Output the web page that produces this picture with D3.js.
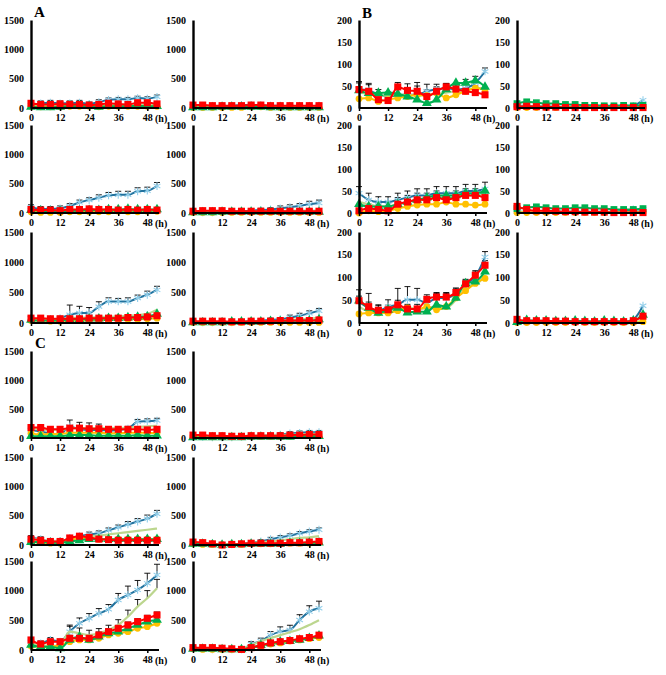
<!DOCTYPE html>
<html><head><meta charset="utf-8">
<script src="https://cdn.jsdelivr.net/npm/d3@7"></script>
<style>
html,body{margin:0;padding:0;background:#fff;}
svg{display:block;}
.tk text{font-family:"Liberation Serif","Times New Roman",serif;font-weight:bold;font-size:10px;fill:#000;}
</style></head><body>
<svg id="c" width="666" height="675"></svg>
<script>
// ---------- data ----------
const hours = [0,4,8,12,16,20,24,28,32,36,40,44,48,52];
const xTickLabels = [0,12,24,36,48];
const yTicksAC = [0,500,1000,1500];
const yTicksB = [0,50,100,150,200];
const seriesNames = ["blue","lgreen","yellow","green","red"];

// Panel A
const A1_blue=[50,80,90,80,80,90,70,100,140,150,150,170,160,190];
const A1_blueErr=[40,40,40,40,40,40,30,40,30,30,30,30,30,30];
const A1_lgreen=[50,40,40,40,50,50,50,50,60,60,60,60,60,60];
const A1_red=[80,60,60,70,60,60,50,60,80,70,60,90,90,70];
const A1_yellow=[30,20,20,20,30,30,30,20,30,30,30,30,30,30];
const A1_green=[20,10,10,20,30,30,30,20,30,30,30,40,30,30];

const A2_blue=[30,20,20,30,40,50,50,40,40,40,30,30,30,40];
const A2_blueErr=[20,20,20,20,20,20,20,20,20,20,20,20,20,20];
const A2_lgreen=[30,20,20,20,30,30,30,30,30,30,30,30,30,30];
const A2_red=[50,50,40,40,40,40,50,50,40,40,40,40,40,40];
const A2_yellow=[10,10,10,10,10,10,20,20,10,10,10,10,10,10];
const A2_green=[10,10,10,20,20,20,20,20,10,10,10,10,10,10];

const A3_blue=[100,70,70,80,120,180,220,260,300,310,310,370,380,460];
const A3_blueErr=[40,40,40,40,40,40,40,50,50,60,60,60,60,60];
const A3_lgreen=[40,30,30,30,40,40,50,50,50,50,50,50,50,60];
const A3_red=[60,50,50,40,60,60,70,60,60,50,60,50,60,50];
const A3_yellow=[20,10,10,10,20,20,20,20,20,30,20,20,30,30];
const A3_green=[50,40,30,30,40,40,50,50,60,60,70,60,60,60];

const A4_blue=[20,10,10,10,20,30,40,50,60,80,100,120,150,170];
const A4_blueErr=[20,20,20,20,20,20,30,30,30,40,40,40,50,50];
const A4_lgreen=[20,10,10,10,20,20,20,30,30,30,40,40,40,40];
const A4_red=[30,40,40,40,30,30,30,30,30,30,30,30,30,30];
const A4_yellow=[10,10,10,10,10,10,10,10,10,10,10,10,10,10];
const A4_green=[10,10,10,20,20,20,20,20,20,20,20,20,20,20];

const A5_blue=[80,55,55,80,136,165,165,270,355,355,355,410,465,545];
const A5_blueErr=[30,30,30,30,160,110,90,80,60,50,60,50,60,60];
const A5_lgreen=[60,50,50,60,80,90,90,100,100,110,120,130,150,220];
const A5_red=[80,80,70,70,70,70,80,80,80,80,90,90,100,120];
const A5_yellow=[40,40,30,30,40,40,50,50,50,60,60,60,70,80];
const A5_green=[50,40,40,40,60,60,70,70,80,80,90,100,110,150];

const A6_blue=[20,10,10,10,10,20,30,40,50,60,90,120,160,200];
const A6_blueErr=[20,20,20,20,20,20,20,30,30,30,40,40,40,40];
const A6_lgreen=[20,10,10,10,10,20,20,30,30,40,50,60,70,90];
const A6_red=[30,30,30,30,20,20,30,30,30,40,40,40,40,50];
const A6_yellow=[10,10,10,10,10,10,10,10,10,10,10,10,10,10];
const A6_green=[10,10,10,10,20,20,20,20,30,30,30,40,40,60];

// Panel B
const B1_blue=[42,40,30,26,30,30,30,38,42,45,42,45,57,83];
const B1_blueErr=[18,16,12,10,12,14,20,16,12,10,15,20,15,8];
const B1_lgreen=[35,33,28,28,30,30,28,30,32,35,38,40,45,45];
const B1_red=[42,38,19,17,48,40,38,26,38,48,43,38,35,30];
const B1_redErr=[15,15,15,12,10,15,20,15,10,8,10,15,15,10];
const B1_yellow=[21,23,15,19,23,26,30,28,34,23,30,38,45,42];
const B1_green=[40,34,34,35,32,26,19,11,19,42,57,57,62,48];

const B2_blue=[5,5,4,4,3,3,3,3,3,3,3,3,5,18];
const B2_lgreen=[3,3,3,3,2,2,2,2,2,2,2,2,2,3];
const B2_red=[3,4,3,2,2,1,1,1,1,1,1,1,1,1];
const B2_yellow=[1,1,1,1,1,1,1,1,1,1,1,1,1,1];
const B2_green=[10,14,12,10,10,8,8,6,6,5,5,6,5,6];

const B3_blue=[45,30,25,25,30,35,40,40,45,45,45,50,50,55];
const B3_blueErr=[15,15,12,12,15,15,15,15,15,15,15,15,15,15];
const B3_lgreen=[25,20,15,15,20,25,30,30,35,35,35,40,40,45];
const B3_red=[5,10,8,5,20,25,30,30,35,30,35,40,40,35];
const B3_redErr=[10,10,10,10,15,15,15,15,15,15,15,15,15,15];
const B3_yellow=[0,5,3,5,10,15,18,20,20,25,20,20,18,20];
const B3_green=[20,15,15,15,20,25,30,35,40,40,40,45,45,50];

const B4_blue=[3,3,3,3,3,3,3,3,3,3,3,5,8,8];
const B4_lgreen=[2,2,2,2,2,2,2,2,2,2,2,2,2,2];
const B4_red=[15,8,5,5,4,3,3,2,2,2,1,1,1,1];
const B4_yellow=[1,1,1,1,1,1,1,1,1,1,1,1,1,1];
const B4_green=[10,12,14,12,10,10,12,12,10,10,8,8,8,10];

const B5_blue=[47,33,27,36,40,51,51,44,55,55,65,84,102,145];
const B5_blueErr=[26,32,13,15,36,29,25,10,10,10,10,10,10,12];
const B5_lgreen=[36,25,22,29,29,36,29,33,36,33,51,80,84,105];
const B5_red=[49,36,28,29,40,31,31,52,57,57,67,86,105,127];
const B5_redErr=[10,10,10,10,10,10,10,10,10,10,10,10,10,10];
const B5_yellow=[20,22,22,22,27,33,29,36,29,36,55,71,87,98];
const B5_green=[49,33,22,29,33,23,25,25,40,36,55,87,91,113];

const B6_blue=[3,2,2,2,2,2,2,2,2,2,3,3,8,38];
const B6_lgreen=[3,3,3,3,3,3,3,3,3,3,3,3,3,5];
const B6_red=[8,5,5,5,4,4,3,3,3,3,3,3,5,15];
const B6_yellow=[1,1,1,1,1,1,1,1,1,1,1,1,1,3];
const B6_green=[2,6,5,5,4,4,5,4,3,5,4,3,5,18];

// Panel C
const C1_blue=[140,110,80,60,200,150,140,140,130,140,160,280,290,300];
const C1_blueErr=[60,60,50,40,110,120,120,100,40,40,40,40,40,40];
const C1_lgreen=[160,150,140,140,160,170,170,170,170,170,180,190,200,210];
const C1_red=[180,180,150,150,170,170,160,160,150,150,150,150,140,150];
const C1_yellow=[80,60,70,70,90,90,90,90,80,80,90,90,90,80];
const C1_green=[30,30,30,30,50,50,50,40,40,40,40,50,40,40];

const C2_blue=[20,20,10,10,10,20,30,40,50,60,80,90,100,100];
const C2_blueErr=[30,30,30,30,30,30,30,30,30,30,30,30,30,30];
const C2_lgreen=[30,30,20,20,30,30,40,40,50,50,60,60,70,70];
const C2_red=[50,50,40,40,30,30,40,40,40,40,50,50,60,60];
const C2_yellow=[30,30,20,20,20,20,30,30,30,30,30,40,40,40];
const C2_green=[10,10,10,10,10,10,20,20,20,20,20,30,30,30];

const C3_blue=[120,100,60,60,120,150,180,200,250,300,350,400,450,530];
const C3_blueErr=[40,40,30,30,40,40,40,40,40,40,50,50,60,60];
const C3_lgreen=[100,90,70,70,100,120,150,160,180,200,220,240,260,280];
const C3_red=[100,80,60,60,120,150,130,100,90,80,80,80,80,80];
const C3_yellow=[50,40,30,30,80,120,120,100,100,100,100,100,100,100];
const C3_green=[50,50,40,40,60,80,100,100,100,100,100,100,100,100];

const C4_blue=[30,30,20,10,10,20,40,60,100,130,160,200,230,260];
const C4_blueErr=[30,30,30,30,30,30,30,30,30,30,30,30,30,30];
const C4_lgreen=[30,20,10,10,10,20,30,50,60,80,100,120,130,150];
const C4_red=[50,40,20,0,10,20,30,30,30,30,40,40,50,60];
const C4_yellow=[20,10,10,0,10,10,20,20,20,30,30,30,30,40];
const C4_green=[20,20,10,0,10,10,20,20,20,20,30,30,40,40];

const C5_blue=[140,112,169,140,310,450,534,618,686,843,927,1012,1124,1265];
const C5_blueErr=[40,40,40,40,90,90,80,80,80,110,150,160,170,180];
const C5_lgreen=[112,84,67,84,310,281,253,281,337,421,562,731,871,1040];
const C5_lgreenErr=[0,0,0,0,110,90,80,80,80,90,110,120,130,150];
const C5_red=[169,101,140,140,197,197,197,253,309,365,421,478,534,590];
const C5_redErr=[40,40,40,40,50,50,50,50,50,50,50,50,50,50];
const C5_yellow=[67,56,56,84,140,169,169,197,253,281,309,365,393,450];
const C5_green=[84,56,56,28,169,225,169,225,281,309,365,421,478,506];

const C6_blue=[30,20,10,10,10,10,100,150,250,310,337,505,646,703];
const C6_blueErr=[20,20,10,10,10,20,40,50,60,80,80,90,100,120];
const C6_lgreen=[30,20,10,10,10,20,80,150,200,250,300,350,420,500];
const C6_red=[40,40,40,30,20,10,40,80,120,140,160,190,210,250];
const C6_yellow=[20,10,10,10,10,10,40,70,100,120,150,170,190,210];
const C6_green=[20,20,20,10,10,10,40,80,110,140,150,170,200,240];

// ---------- layout ----------
const panels = [
 {x0:31, top:20, zero:108, max:1500, ticks:yTicksAC, d:{blue:A1_blue,lgreen:A1_lgreen,yellow:A1_yellow,green:A1_green,red:A1_red}, e:{blue:A1_blueErr}},
 {x0:193, top:20, zero:108, max:1500, ticks:yTicksAC, d:{blue:A2_blue,lgreen:A2_lgreen,yellow:A2_yellow,green:A2_green,red:A2_red}, e:{blue:A2_blueErr}},
 {x0:31, top:125, zero:213, max:1500, ticks:yTicksAC, d:{blue:A3_blue,lgreen:A3_lgreen,yellow:A3_yellow,green:A3_green,red:A3_red}, e:{blue:A3_blueErr}},
 {x0:193, top:125, zero:213, max:1500, ticks:yTicksAC, d:{blue:A4_blue,lgreen:A4_lgreen,yellow:A4_yellow,green:A4_green,red:A4_red}, e:{blue:A4_blueErr}},
 {x0:31, top:232, zero:323, max:1500, ticks:yTicksAC, d:{blue:A5_blue,lgreen:A5_lgreen,yellow:A5_yellow,green:A5_green,red:A5_red}, e:{blue:A5_blueErr}},
 {x0:193, top:232, zero:323, max:1500, ticks:yTicksAC, d:{blue:A6_blue,lgreen:A6_lgreen,yellow:A6_yellow,green:A6_green,red:A6_red}, e:{blue:A6_blueErr}},
 {x0:359, top:20, zero:108, max:200, ticks:yTicksB, d:{blue:B1_blue,lgreen:B1_lgreen,yellow:B1_yellow,green:B1_green,red:B1_red}, e:{blue:B1_blueErr,red:B1_redErr}},
 {x0:517, top:20, zero:108, max:200, ticks:yTicksB, greenSq:true, d:{blue:B2_blue,lgreen:B2_lgreen,yellow:B2_yellow,green:B2_green,red:B2_red}, e:{}},
 {x0:359, top:125, zero:213, max:200, ticks:yTicksB, d:{blue:B3_blue,lgreen:B3_lgreen,yellow:B3_yellow,green:B3_green,red:B3_red}, e:{blue:B3_blueErr,red:B3_redErr}},
 {x0:517, top:125, zero:213, max:200, ticks:yTicksB, greenSq:true, d:{blue:B4_blue,lgreen:B4_lgreen,yellow:B4_yellow,green:B4_green,red:B4_red}, e:{}},
 {x0:359, top:232, zero:323, max:200, ticks:yTicksB, d:{blue:B5_blue,lgreen:B5_lgreen,yellow:B5_yellow,green:B5_green,red:B5_red}, e:{blue:B5_blueErr,red:B5_redErr}},
 {x0:517, top:232, zero:323, max:200, ticks:yTicksB, d:{blue:B6_blue,lgreen:B6_lgreen,yellow:B6_yellow,green:B6_green,red:B6_red}, e:{}},
 {x0:31, top:351, zero:438, max:1500, ticks:yTicksAC, d:{blue:C1_blue,lgreen:C1_lgreen,yellow:C1_yellow,green:C1_green,red:C1_red}, e:{blue:C1_blueErr}},
 {x0:193, top:351, zero:438, max:1500, ticks:yTicksAC, d:{blue:C2_blue,lgreen:C2_lgreen,yellow:C2_yellow,green:C2_green,red:C2_red}, e:{blue:C2_blueErr}},
 {x0:31, top:457, zero:545, max:1500, ticks:yTicksAC, d:{blue:C3_blue,lgreen:C3_lgreen,yellow:C3_yellow,green:C3_green,red:C3_red}, e:{blue:C3_blueErr}},
 {x0:193, top:457, zero:545, max:1500, ticks:yTicksAC, d:{blue:C4_blue,lgreen:C4_lgreen,yellow:C4_yellow,green:C4_green,red:C4_red}, e:{blue:C4_blueErr}},
 {x0:31, top:561, zero:650, max:1500, ticks:yTicksAC, d:{blue:C5_blue,lgreen:C5_lgreen,yellow:C5_yellow,green:C5_green,red:C5_red}, e:{blue:C5_blueErr,lgreen:C5_lgreenErr,red:C5_redErr}},
 {x0:193, top:561, zero:650, max:1500, ticks:yTicksAC, d:{blue:C6_blue,lgreen:C6_lgreen,yellow:C6_yellow,green:C6_green,red:C6_red}, e:{blue:C6_blueErr}}
];

const lineColor = {blue:"#21729e", lgreen:"#bcd68e", yellow:"#ffc000", green:"#00b050", red:"#ff0000"};
const markFill = {blue:"none", lgreen:"none", yellow:"#ffc000", green:"#00b050", red:"#ff0000"};

const svg = d3.select("#c");

panels.forEach(p => {
  const g = svg.append("g");
  const x = d3.scaleLinear().domain([0,52]).range([p.x0, p.x0+126]);
  const y = d3.scaleLinear().domain([0,p.max]).range([p.zero, p.top]);

  // error bars
  Object.keys(p.e).forEach(k => {
    const vals = p.d[k], err = p.e[k];
    hours.forEach((h,i) => {
      if (!err[i]) return;
      const cx = x(h), y1 = y(vals[i]), y2 = y(vals[i]+err[i]);
      g.append("line").attr("x1",cx).attr("x2",cx).attr("y1",y1).attr("y2",y2).attr("stroke","#000").attr("stroke-width",0.9);
      g.append("line").attr("x1",cx-3).attr("x2",cx+3).attr("y1",y2).attr("y2",y2).attr("stroke","#000").attr("stroke-width",0.9);
    });
  });

  // lines and markers
  seriesNames.forEach(k => {
    const vals = p.d[k];
    const line = d3.line().x((v,i)=>x(hours[i])).y(v=>y(v)).curve(d3.curveMonotoneX);
    g.append("path").datum(vals).attr("d",line).attr("fill","none")
      .attr("stroke",lineColor[k]).attr("stroke-width", k==="lgreen" ? 2.2 : 2);
    if (k==="lgreen") return;
    let type, size;
    if (k==="blue") { type = d3.symbolAsterisk; size = 42; }
    else if (k==="red") { type = d3.symbolSquare; size = 50; }
    else if (k==="yellow") { type = d3.symbolCircle; size = 36; }
    else { type = p.greenSq ? d3.symbolSquare : d3.symbolTriangle; size = p.greenSq ? 46 : 42; }
    const sym = d3.symbol().type(type).size(size);
    g.selectAll(null).data(vals).enter().append("path")
      .attr("d", sym)
      .attr("transform",(v,i)=>`translate(${x(hours[i])},${y(v)})`)
      .attr("fill", markFill[k])
      .attr("stroke", k==="blue" ? "#93cfea" : "none")
      .attr("stroke-width", 1.1);
  });

  // y axis
  const ya = g.append("g").attr("class","tk").attr("transform",`translate(${p.x0},0)`)
    .call(d3.axisLeft(y).tickValues(p.ticks).tickSize(0).tickPadding(7).tickFormat(d3.format("d")));
  ya.select(".domain").attr("stroke","#000").attr("stroke-width",2.4);
  // x axis
  const xa = g.append("g").attr("class","tk").attr("transform",`translate(0,${p.zero})`)
    .call(d3.axisBottom(x).tickValues(xTickLabels).tickSize(3).tickSizeOuter(0).tickPadding(3).tickFormat(d3.format("d")));
  xa.select(".domain").attr("stroke","#000").attr("stroke-width",2).attr("d",`M${p.x0},0H${p.x0+128}`);
  xa.selectAll(".tick line").attr("stroke","#000").attr("stroke-width",1.5);
  g.append("text").attr("x", p.x0+124).attr("y", p.zero+14)
    .attr("font-family","Liberation Serif, serif").attr("font-weight","bold").attr("font-size",10).text("(h)");
});

// panel letters
const letters = [{t:"A",x:34,y:17},{t:"B",x:362,y:18},{t:"C",x:35,y:348}];
svg.selectAll(null).data(letters).enter().append("text")
  .attr("x",d=>d.x).attr("y",d=>d.y).text(d=>d.t)
  .attr("font-family","Liberation Serif, serif").attr("font-weight","bold").attr("font-size",15);
</script>
</body></html>
